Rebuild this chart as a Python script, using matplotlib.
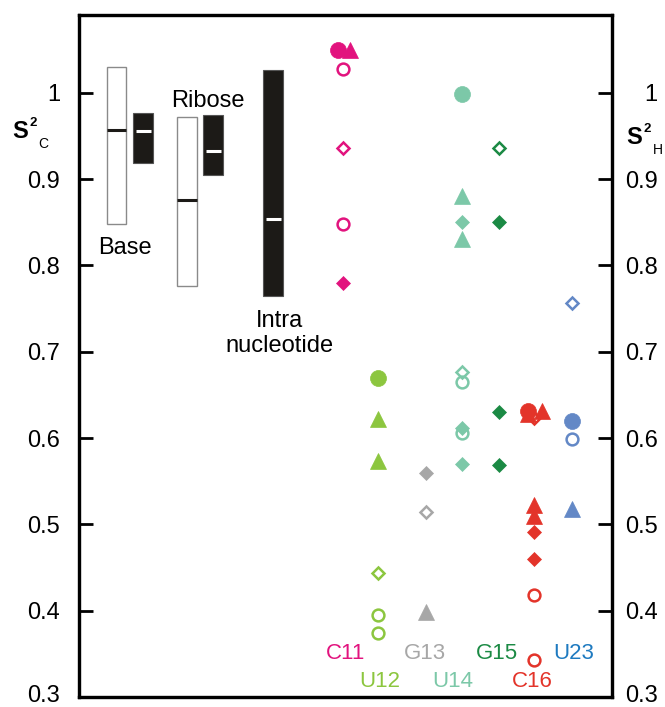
import numpy as np
import matplotlib
matplotlib.use('Agg')
import matplotlib.pyplot as plt
from matplotlib.transforms import ScaledTranslation

plt.rcParams['font.family'] = ['Liberation Sans', 'DejaVu Sans']

# summary bars: (label group, low, high, median)
bar_names = ['Base H', 'Base C', 'Ribose H', 'Ribose C', 'Intra C']
bar_x = [1.04, 1.78, 3.0, 3.72, 5.39]
bar_low = [0.848, 0.918, 0.776, 0.905, 0.764]
bar_high = [1.030, 0.977, 0.972, 0.974, 1.026]
bar_med = [0.957, 0.956, 0.876, 0.932, 0.854]
bar_dark = [False, True, False, True, True]

# residues
residues = ['C11', 'U12', 'G13', 'U14', 'G15', 'C16', 'U23']
res_x = [7.33, 8.31, 9.64, 10.64, 11.67, 12.64, 13.69]
res_color = ['#E2137E', '#8CC63F', '#A7A7A7', '#7CC8A8', '#1B8A44', '#E3342A', '#6388C6']
label_color = ['#E2137E', '#8CC63F', '#A7A7A7', '#7CC8A8', '#1B8A44', '#E3342A', '#1E7AC0']

# order parameters per residue, by marker kind (filled = C, open = H)
circle_f = {'C11': [1.05], 'U12': [0.669], 'U14': [0.999], 'C16': [0.631], 'U23': [0.620]}
circle_o = {'C11': [1.027, 0.848], 'U12': [0.395, 0.374], 'U14': [0.665, 0.606],
            'C16': [0.418, 0.343], 'U23': [0.599]}
tri_f = {'C11': [1.05], 'U12': [0.622, 0.573], 'G13': [0.398], 'U14': [0.880, 0.831],
         'C16': [0.628, 0.631, 0.522, 0.510], 'U23': [0.518]}
diam_f = {'C11': [0.78], 'G13': [0.559], 'U14': [0.850, 0.612, 0.570],
          'G15': [0.850, 0.630, 0.569], 'C16': [0.491, 0.460]}
diam_o = {'C11': [0.936], 'U12': [0.444], 'G13': [0.514], 'U14': [0.677],
          'G15': [0.936], 'C16': [0.623], 'U23': [0.756]}

# small sideways shifts where symbols overlap
shift_circle_f = {'C11': [-0.14], 'C16': [-0.17]}
shift_tri_f = {'C11': [0.19], 'C16': [-0.17, 0.22, 0, 0]}

fig = plt.figure(figsize=(6.65, 7.07), dpi=100)
ax = fig.add_axes([79/665, 10/707, 533/665, 682/707])
ax.set_xlim(0, 14.8)
ax.set_ylim(0.3, 1.09)

# bars
bw = 0.54
for x, lo, hi, med, dark in zip(bar_x, bar_low, bar_high, bar_med, bar_dark):
    if dark:
        ax.bar(x, hi - lo, bottom=lo, width=bw, color='#1C1A17', edgecolor='#555555', lw=0.8, zorder=2)
        ax.plot([x - bw*0.38, x + bw*0.42], [med, med], color='white', lw=2.2, solid_capstyle='butt', zorder=3)
    else:
        ax.bar(x, hi - lo, bottom=lo, width=bw, color='white', edgecolor='#8a8a8a', lw=1.0, zorder=2)
        ax.plot([x - bw/2, x + bw/2], [med, med], color='#1C1A17', lw=2.2, solid_capstyle='butt', zorder=3)

ax.text(1.28, 0.82, 'Base', fontsize=17, ha='center', va='center')
ax.text(3.58, 0.99, 'Ribose', fontsize=17, ha='center', va='center')
ax.text(5.58, 0.721, 'Intra\nnucleotide', fontsize=17, ha='center', va='center', linespacing=1.2)

def draw(data, shifts, marker, filled, ms):
    for r, vals in data.items():
        i = residues.index(r)
        sh = shifts.get(r, [0]*len(vals))
        xs = [res_x[i] + s for s in sh]
        if filled:
            ax.plot(xs, vals, ls='none', marker=marker, ms=ms, mfc=res_color[i], mec=res_color[i], mew=0.5, zorder=4)
        else:
            ax.plot(xs, vals, ls='none', marker=marker, ms=ms, mfc='none', mec=res_color[i], mew=1.8, zorder=5)

draw(tri_f, shift_tri_f, '^', True, 11.5)
draw(circle_f, shift_circle_f, 'o', True, 11.5)
draw(diam_f, {}, 'D', True, 7.6)
draw(circle_o, {}, 'o', False, 8.5)
draw(diam_o, {}, 'D', False, 6.4)

label_y = [0.35, 0.318, 0.35, 0.318, 0.35, 0.318, 0.35]
label_x = [7.39, 8.36, 9.61, 10.39, 11.61, 12.58, 13.75]
for r, lx, ly, c in zip(residues, label_x, label_y, label_color):
    ax.text(lx, ly, r, color=c, fontsize=16, ha='center', va='center')

yt = [0.3, 0.4, 0.5, 0.6, 0.7, 0.8, 0.9, 1.0]
ytl = ['0.3', '0.4', '0.5', '0.6', '0.7', '0.8', '0.9', '1']
ax.set_xticks([])
ax.set_yticks(yt)
ax.set_yticklabels(ytl)
ax.tick_params(axis='y', direction='in', length=10, width=2, labelsize=17, pad=13.5)
for s in ax.spines.values():
    s.set_linewidth(2.3)

ax2 = ax.twinx()
ax2.set_ylim(ax.get_ylim())
ax2.set_yticks(yt)
ax2.set_yticklabels(ytl)
ax2.tick_params(axis='y', direction='in', length=10, width=2, labelsize=17, pad=33)
for lab in ax2.get_yticklabels():
    lab.set_ha('right')
for s in ax2.spines.values():
    s.set_linewidth(2.3)

# lift the bottom labels a little so they stay inside the figure
for a in (ax, ax2):
    lab = a.get_yticklabels()[0]
    lab.set_transform(lab.get_transform() + ScaledTranslation(0, 2.5/72, fig.dpi_scale_trans))

# S^2 labels, built from three pieces (pixel positions from the top-left)
def s2_label(px, py, sub, sub_dx):
    fig.text(px/665, 1 - py/707, 'S', fontsize=17, fontweight='bold', ha='center', va='center')
    fig.text((px + 13)/665, 1 - (py - 9)/707, '2', fontsize=9.5, fontweight='bold', ha='center', va='center')
    fig.text((px + sub_dx)/665, 1 - (py + 12)/707, sub, fontsize=10, ha='center', va='center')

s2_label(20, 132, 'C', 23)
s2_label(634, 138, 'H', 24)

fig.savefig('out.png', dpi=100)
